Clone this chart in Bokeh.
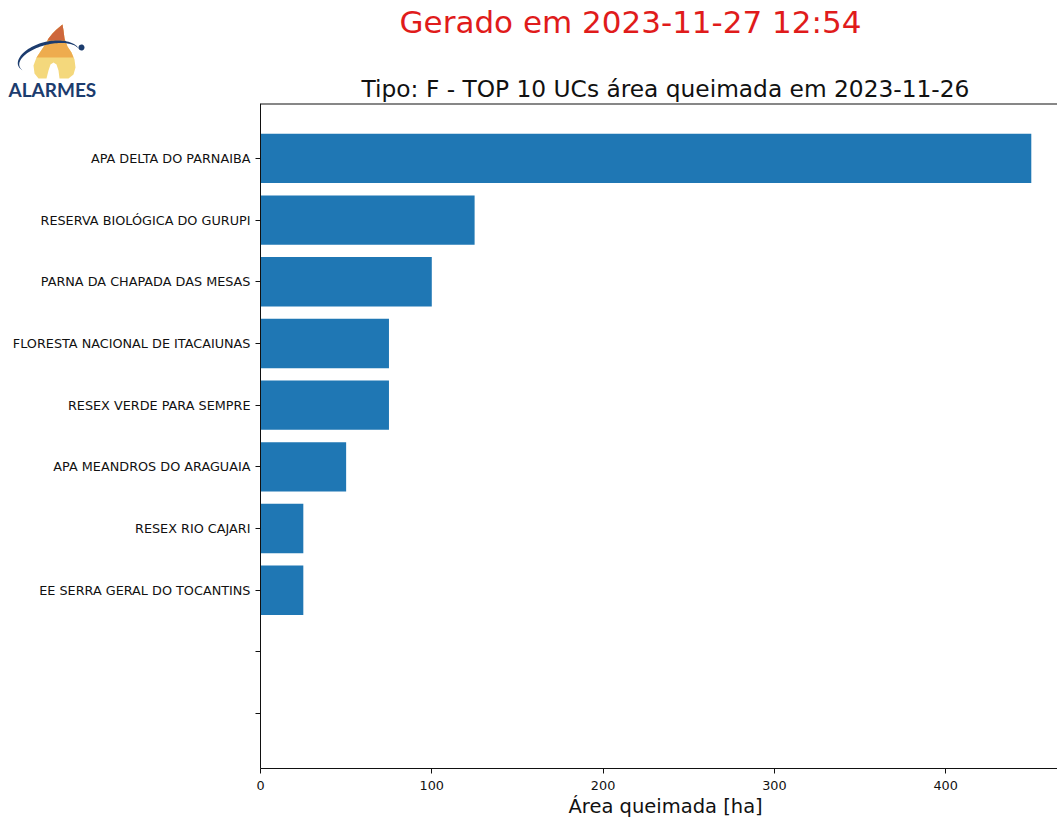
import numpy as np
from bokeh.plotting import figure
from bokeh.layouts import column
from bokeh.models import Range1d, FixedTicker, Span, Title
from bokeh.core.properties import value
from bokeh.embed import file_html
from bokeh.resources import INLINE

# ---------------- data ----------------
categories = [
    "APA DELTA DO PARNAIBA",
    "RESERVA BIOLÓGICA DO GURUPI",
    "PARNA DA CHAPADA DAS MESAS",
    "FLORESTA NACIONAL DE ITACAIUNAS",
    "RESEX VERDE PARA SEMPRE",
    "APA MEANDROS DO ARAGUAIA",
    "RESEX RIO CAJARI",
    "EE SERRA GERAL DO TOCANTINS",
    "",
    "",
]
values = [450, 125, 100, 75, 75, 50, 25, 25]
x_ticks = [0, 100, 200, 300, 400]
title_text = "Gerado em 2023-11-27 12:54"
subtitle_text = "Tipo: F - TOP 10 UCs área queimada em 2023-11-26"
x_label_text = "Área queimada [ha]"
logo_text = "ALARMES"

# ---------------- style ----------------
FONT = "DejaVu Sans"
BAR = "#1f77b4"
INK = "#111111"
NAVY = "#1c3c6e"
W = 1057
HEAD_H = 103
MAIN_H = 819 - HEAD_H
FL, FB = 260, 51
BL = 0.38  # empirical baseline correction (em)

# ---------------- header (titles + logo), page-pixel coordinates ----------------
hd = figure(width=W, height=HEAD_H, output_backend="svg", toolbar_location=None,
            x_range=Range1d(0, W), y_range=Range1d(HEAD_H, 0),
            x_axis_type=None, y_axis_type=None, frame_align=False,
            min_border=0, background_fill_color="white", border_fill_color="white")
hd.outline_line_color = None
hd.grid.visible = False

def htext(x, y, txt, size, color, font=FONT, align="center", style="normal"):
    hd.text(x=[x], y=[y - BL * size], text=[txt], text_align=align,
            text_baseline="alphabetic", text_font=value(font), text_font_style=style,
            text_font_size=f"{size}px", text_color=color)

htext(630, 33, title_text, 31, "#e01b1b")
htext(665, 97, subtitle_text, 23.3, INK)
htext(8, 96.5, logo_text, 19, NAVY, font="Lato", align="left", style="bold")

flame = [(62, 24), (63, 30), (64, 38), (67, 46), (71, 52), (74, 59), (75, 67), (73, 74),
         (68, 78), (59, 78), (58, 70), (56, 64), (53, 62), (50, 64), (48, 70), (46, 78),
         (38, 78), (34, 73), (33, 65), (36, 57), (40, 51), (44, 45), (48, 38), (52, 33), (56, 29)]
orange = [(62, 24), (63, 30), (64, 38), (67, 46), (71, 52), (73, 57), (36, 57), (40, 51),
          (44, 45), (48, 38), (52, 33), (56, 29)]
red = [(62, 24), (63, 30), (64, 38), (64.5, 40), (47, 40), (48, 38), (52, 33), (56, 29)]

def poly(pts, color, alpha=1.0):
    hd.patch([a for a, b in pts], [b for a, b in pts], fill_color=color,
             fill_alpha=alpha, line_color=None)

poly(flame, "#f3d46e", 0.9)
poly(orange, "#eca447", 0.85)
poly(red, "#c85a3a", 0.85)

cx, cy, a, b, phi = 49.0, 58.0, 31.0, 14.0, np.radians(-14)
t = np.radians(np.linspace(160, 352, 60))
w = 3.2 * np.sin(np.pi * (t - t[0]) / (t[-1] - t[0]))
def ell(aa, bb, tt):
    x = cx + aa * np.cos(tt) * np.cos(phi) - bb * np.sin(tt) * np.sin(phi)
    y = cy + aa * np.cos(tt) * np.sin(phi) + bb * np.sin(tt) * np.cos(phi)
    return x, y
ox, oy = ell(a + w, b + w, t)
ix, iy = ell(a, b, t[::-1])
poly(list(zip(np.r_[ox, ix], np.r_[oy, iy])), NAVY)
ang = np.linspace(0, 2 * np.pi, 24)
poly(list(zip(81 + 3 * np.cos(ang), 47 + 3 * np.sin(ang))), NAVY)

# ---------------- main bar chart ----------------
n = len(categories)
y_top = -0.89
p = figure(width=W, height=MAIN_H, output_backend="svg", toolbar_location=None,
           x_range=Range1d(0, 465.3),
           y_range=Range1d(n - 1 + 0.89, y_top), frame_align=False,
           min_border_left=FL, min_border_right=0,
           min_border_top=0, min_border_bottom=FB,
           background_fill_color="white", border_fill_color="white")
p.outline_line_color = None
p.grid.visible = False

p.hbar(y=list(range(len(values))), right=values, left=0, height=0.8,
       fill_color=BAR, line_color=None)

for ax in (p.xaxis[0], p.yaxis[0]):
    ax.axis_line_color = INK
    ax.axis_line_width = 1
    ax.major_tick_line_color = INK
    ax.major_tick_out = 5
    ax.major_tick_in = 0
    ax.minor_tick_line_color = None
    ax.major_label_text_font = FONT
    ax.major_label_text_font_size = "12.8px"
    ax.major_label_text_color = INK

p.xaxis.ticker = FixedTicker(ticks=x_ticks)
p.xaxis.major_label_standoff = 7

p.yaxis.ticker = FixedTicker(ticks=list(range(n)))
p.yaxis.major_label_overrides = {i: c for i, c in enumerate(categories)}
p.yaxis.major_label_standoff = 5

p.add_layout(Title(text=x_label_text, align="left", offset=308, standoff=0,
                   text_font=FONT, text_font_size="19.5px", text_font_style="normal",
                   text_color=INK), "below")

p.add_layout(Span(location=y_top, dimension="width", line_color=INK, line_width=2))

layout = column(hd, p, spacing=0)
open("out.html", "w").write(file_html(layout, INLINE))
